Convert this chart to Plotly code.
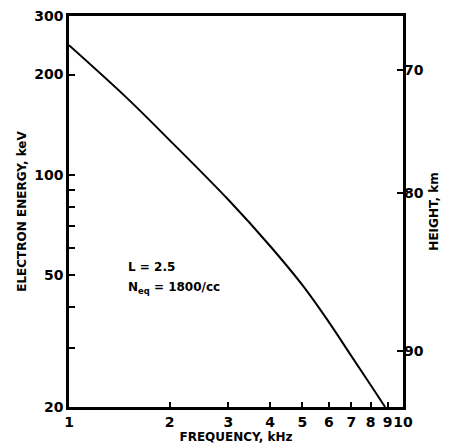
import plotly.graph_objects as go

# Wave frequency (kHz) vs resonant electron energy (keV)
frequency_khz = [1.0, 1.5, 2.0, 3.0, 4.0, 5.0, 6.0, 7.0, 8.0, 8.84]
energy_kev = [245, 169, 127, 84, 61, 46.5, 36, 28.5, 23.3, 20]

# Right-hand height scale: energy at which each height mark falls
height_labels = ["70", "80", "90"]
height_energy = [206, 88, 29.5]

x_tickvals = [1, 2, 3, 4, 5, 6, 7, 8, 9, 10]
x_ticktext = ["1", "2", "3", "4", "5", "6", "7", "8", "9", "10"]
y_tickvals = [20, 50, 100, 200, 300]
y_ticktext = ["20", "50", "100", "200", "300"]
y_minor_tickvals = [30, 40, 60, 70, 80, 90]

FONT = "DejaVu Sans"
tick_font = dict(family=FONT, size=14, color="black", weight="bold")
title_font = dict(family=FONT, size=12, color="black", weight="bold")

fig = go.Figure()
fig.add_trace(go.Scatter(
    x=frequency_khz, y=energy_kev, mode="lines",
    line=dict(color="black", width=2, shape="spline"),
    showlegend=False, hoverinfo="skip",
))
# invisible trace to activate the right axis
fig.add_trace(go.Scatter(
    x=[1], y=[100], yaxis="y2", mode="markers",
    marker=dict(opacity=0), showlegend=False, hoverinfo="skip",
))

fig.update_layout(
    width=450, height=446,
    margin=dict(l=69, r=47, t=16, b=39, autoexpand=False),
    paper_bgcolor="white", plot_bgcolor="white",
    xaxis=dict(
        type="log", range=[0, 1], automargin=False,
        tickvals=x_tickvals, ticktext=x_ticktext, tickangle=0,
        ticks="inside", ticklen=5, tickwidth=2, tickcolor="black",
        showline=True, linecolor="black", linewidth=2.5, mirror=True,
        showgrid=False, zeroline=False, tickfont=tick_font,
        title=dict(text="FREQUENCY, kHz", font=title_font, standoff=1),
    ),
    yaxis=dict(
        type="log", range=[1.30103, 2.4771213], automargin=False,
        tickvals=y_tickvals, ticktext=y_ticktext,
        ticks="inside", ticklen=6, tickwidth=2, tickcolor="black",
        minor=dict(tickvals=y_minor_tickvals, ticks="inside", ticklen=6,
                   tickwidth=2, tickcolor="black", showgrid=False),
        showline=True, linecolor="black", linewidth=2.5, mirror=True,
        showgrid=False, zeroline=False, tickfont=tick_font,
        title=dict(text="ELECTRON ENERGY, keV", font=title_font, standoff=6),
    ),
    yaxis2=dict(
        type="log", range=[1.30103, 2.4771213], automargin=False,
        overlaying="y", side="right",
        tickvals=height_energy, ticktext=height_labels,
        ticks="inside", ticklen=6, tickwidth=2, tickcolor="black",
        showline=False, showgrid=False, zeroline=False, tickfont=tick_font,
        title=dict(text="HEIGHT, km", font=title_font, standoff=6),
    ),
    annotations=[
        dict(x=0.172, y=0.358, xref="paper", yref="paper",
             text="L = 2.5", showarrow=False, xanchor="left", yanchor="middle",
             font=dict(family=FONT, size=12, color="black", weight="bold")),
        dict(x=0.172, y=0.305, xref="paper", yref="paper",
             text="N<sub>eq</sub> = 1800/cc", showarrow=False,
             xanchor="left", yanchor="middle",
             font=dict(family=FONT, size=12, color="black", weight="bold")),
    ],
)

fig.write_html("out.html")
